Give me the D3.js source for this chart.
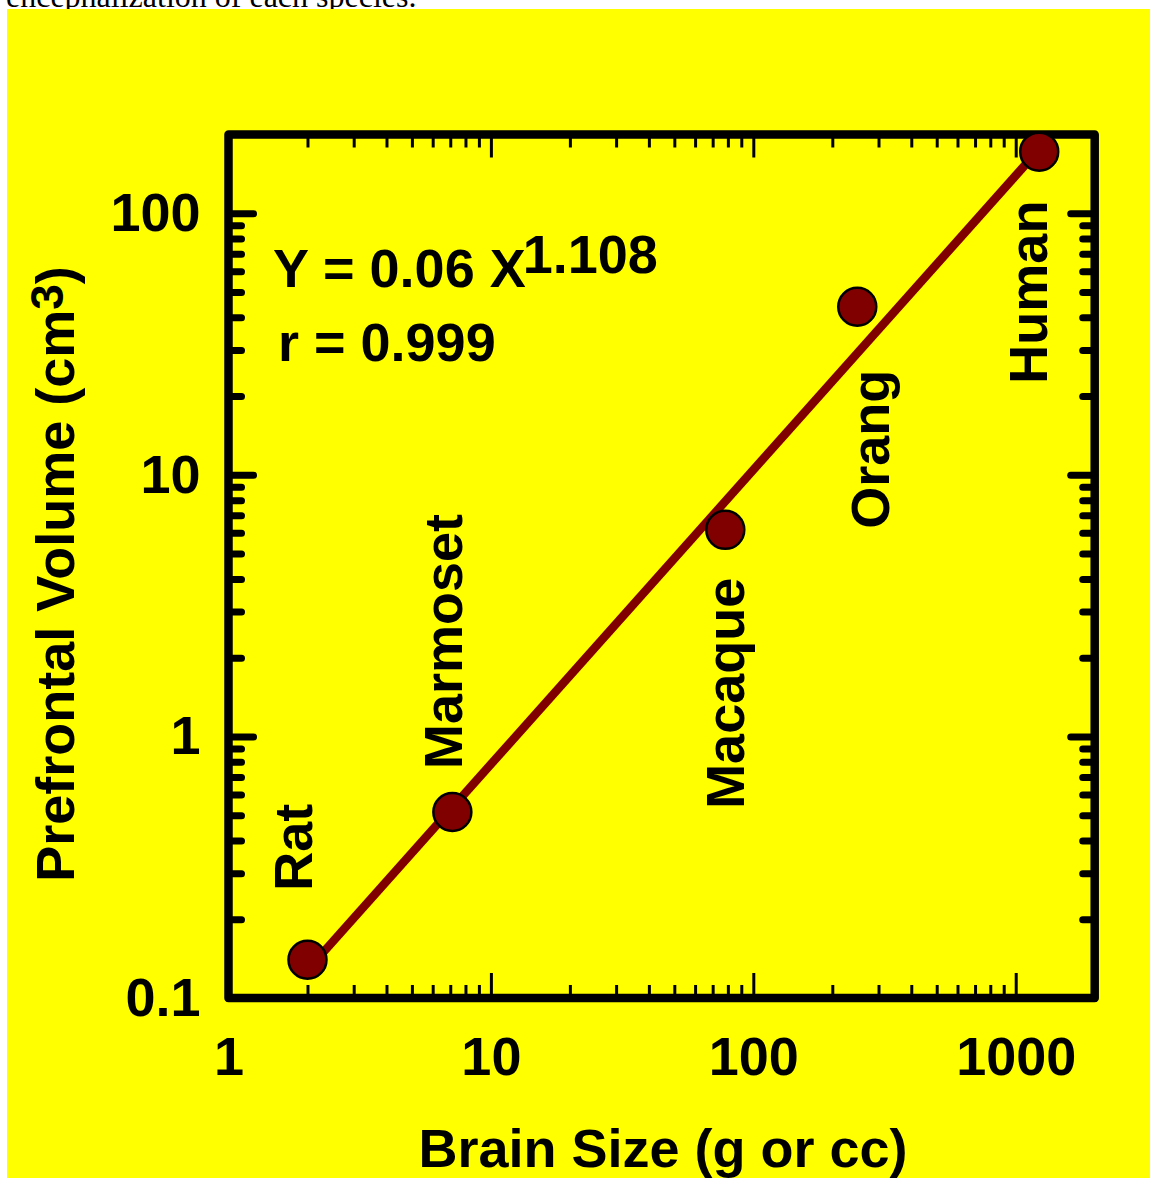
<!DOCTYPE html>
<html>
<head>
<meta charset="utf-8">
<script src="https://cdn.jsdelivr.net/npm/d3@7"></script>
<style>
  body { margin: 0; background: #ffffff; }
  svg { display: block; }
</style>
</head>
<body>
<svg id="chart" width="1150" height="1178"></svg>
<script>
// ---------------- DATA ----------------
const categories = ["Rat", "Marmoset", "Macaque", "Orang", "Human"];
const brainSize = [2.0, 7.13, 78.2, 249, 1229];          // g or cc
const prefrontalVolume = [0.14, 0.514, 6.16, 43.9, 172]; // cm3
const fitX = [2.0, 1237];
const fitY = [0.128, 177];
const xMajorTicks = [1, 10, 100, 1000];
const xTickLabels = ["1", "10", "100", "1000"];
const xMinorTicks = [2, 3, 4, 5, 6, 7, 8, 9, 20, 30, 40, 50, 60, 70, 80, 90, 200, 300, 400, 500, 600, 700, 800, 900];
const yMajorTicks = [0.1, 1, 10, 100];
const yTickLabels = ["0.1", "1", "10", "100"];
const yMinorTicks = [0.2, 0.3, 0.4, 0.5, 0.6, 0.7, 0.8, 0.9, 2, 3, 4, 5, 6, 7, 8, 9, 20, 30, 40, 50, 60, 70, 80, 90];
const equationMain = "Y = 0.06 X";
const equationExp = "1.108";
const correlationText = "r = 0.999";
const xTitle = "Brain Size (g or cc)";
const yTitleMain = "Prefrontal Volume (cm";
const yTitleSup = "3";
const yTitleEnd = ")";
const topCaption = "encephalization of each species.";

// ---------------- LAYOUT / STYLE ----------------
const FONT = "'Liberation Sans', Arial, Helvetica, sans-serif";
const FS = 54;
const labelOffsets = { // pixel offsets of rotated label start (baseline) from point centre
  Rat: [5, -69], Marmoset: [10, -43], Macaque: [19, 279], Orang: [32, 222], Human: [8, 232]
};

const svg = d3.select("#chart");

// caption strip + yellow panel
svg.append("text")
  .attr("x", 6).attr("y", 7)
  .attr("font-family", "'Liberation Serif', 'Times New Roman', serif")
  .attr("font-size", 32)
  .attr("fill", "#000")
  .text(topCaption);

svg.append("rect")
  .attr("x", 7).attr("y", 9).attr("width", 1143).attr("height", 1169)
  .attr("fill", "#ffff00");

const x = d3.scaleLog().domain([1, 2000]).range([228.5, 1094.7]);
const y = d3.scaleLog().domain([0.1, 200]).range([998, 134.5]);

function styleAxis(g, w, cap) {
  g.select(".domain").remove();
  g.selectAll(".tick line").attr("stroke", "#000").attr("stroke-width", w).attr("stroke-linecap", cap);
  g.attr("font-size", FS).attr("font-family", FONT).attr("font-weight", "bold");
  g.selectAll(".tick text").attr("fill", "#000");
}

// left axis
svg.append("g").attr("transform", `translate(${x.range()[0]},0)`)
  .call(d3.axisLeft(y).tickValues(yMinorTicks).tickSize(-13).tickFormat(""))
  .call(g => styleAxis(g, 7, "round"));
svg.append("g").attr("transform", `translate(${x.range()[0]},0)`)
  .call(d3.axisLeft(y).tickValues(yMajorTicks).tickSize(-25).tickPadding(28)
    .tickFormat((d, i) => yTickLabels[i]))
  .call(g => styleAxis(g, 7, "round"));

// right axis
svg.append("g").attr("transform", `translate(${x.range()[1]},0)`)
  .call(d3.axisRight(y).tickValues(yMinorTicks).tickSize(-12).tickFormat(""))
  .call(g => styleAxis(g, 7, "round"));
svg.append("g").attr("transform", `translate(${x.range()[1]},0)`)
  .call(d3.axisRight(y).tickValues(yMajorTicks).tickSize(-24).tickFormat(""))
  .call(g => styleAxis(g, 7, "round"));

// top axis
svg.append("g").attr("transform", `translate(0,${y.range()[1]})`)
  .call(d3.axisTop(x).tickValues(xMinorTicks).tickSize(-13).tickFormat(""))
  .call(g => styleAxis(g, 3, "butt"));
svg.append("g").attr("transform", `translate(0,${y.range()[1]})`)
  .call(d3.axisTop(x).tickValues(xMajorTicks).tickSize(-23).tickFormat(""))
  .call(g => styleAxis(g, 3, "butt"));

// bottom axis
svg.append("g").attr("transform", `translate(0,${y.range()[0]})`)
  .call(d3.axisBottom(x).tickValues(xMinorTicks).tickSize(-13).tickFormat(""))
  .call(g => styleAxis(g, 3, "butt"));
svg.append("g").attr("transform", `translate(0,${y.range()[0]})`)
  .call(d3.axisBottom(x).tickValues(xMajorTicks).tickSize(-25).tickPadding(39)
    .tickFormat((d, i) => xTickLabels[i]))
  .call(g => styleAxis(g, 3, "butt"));

// frame
svg.append("rect")
  .attr("x", x.range()[0]).attr("y", y.range()[1])
  .attr("width", x.range()[1] - x.range()[0])
  .attr("height", y.range()[0] - y.range()[1])
  .attr("fill", "none").attr("stroke", "#000").attr("stroke-width", 8.5)
  .attr("stroke-linejoin", "round");

// fit line
svg.append("path")
  .datum(d3.zip(fitX, fitY))
  .attr("d", d3.line().x(d => x(d[0])).y(d => y(d[1])))
  .attr("fill", "none").attr("stroke", "#800000").attr("stroke-width", 8.5);

// points
const pts = categories.map((c, i) => ({ name: c, bx: brainSize[i], py: prefrontalVolume[i] }));
svg.append("g").selectAll("circle").data(pts).join("circle")
  .attr("cx", d => x(d.bx)).attr("cy", d => y(d.py)).attr("r", 19)
  .attr("fill", "#800000").attr("stroke", "#000").attr("stroke-width", 2.5);

// species labels (rotated)
svg.append("g").selectAll("text").data(pts).join("text")
  .attr("transform", d => `translate(${x(d.bx) + labelOffsets[d.name][0]},${y(d.py) + labelOffsets[d.name][1]}) rotate(-90)`)
  .attr("font-family", FONT).attr("font-weight", "bold").attr("font-size", FS)
  .attr("fill", "#000").attr("text-anchor", "start")
  .text(d => d.name);

// equation
const eq = svg.append("text")
  .attr("x", 273).attr("y", 287)
  .attr("font-family", FONT).attr("font-weight", "bold").attr("font-size", FS).attr("fill", "#000");
eq.append("tspan").text(equationMain);
eq.append("tspan").attr("dx", -3).attr("dy", -14).text(equationExp);

svg.append("text")
  .attr("x", 278).attr("y", 361)
  .attr("font-family", FONT).attr("font-weight", "bold").attr("font-size", FS).attr("fill", "#000")
  .text(correlationText);

// axis titles
svg.append("text")
  .attr("x", 663).attr("y", 1167)
  .attr("text-anchor", "middle")
  .attr("font-family", FONT).attr("font-weight", "bold").attr("font-size", FS).attr("fill", "#000")
  .text(xTitle);

const yt = svg.append("text")
  .attr("transform", "translate(74,574) rotate(-90)")
  .attr("text-anchor", "middle")
  .attr("font-family", FONT).attr("font-weight", "bold").attr("font-size", FS).attr("fill", "#000");
yt.append("tspan").text(yTitleMain);
yt.append("tspan").attr("dy", -11).attr("font-size", 46).text(yTitleSup);
yt.append("tspan").attr("dy", 11).text(yTitleEnd);
</script>
</body>
</html>
